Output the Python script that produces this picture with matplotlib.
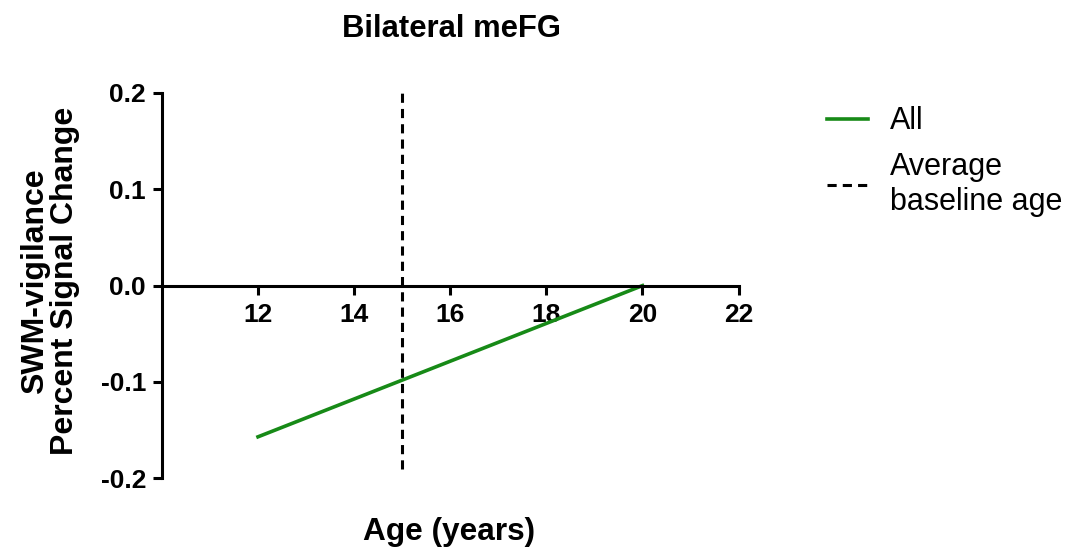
import numpy as np
import matplotlib
matplotlib.use('Agg')
import matplotlib.pyplot as plt

plt.rcParams['font.family'] = ['Liberation Sans', 'DejaVu Sans']

# fitted line for all subjects
age = [12, 20]
psc = [-0.157, 0.0]
baseline_age = 15
baseline_span = [-0.19, 0.2]

xticks = [12, 14, 16, 18, 20, 22]
yticks = [-0.2, -0.1, 0.0, 0.1, 0.2]

fig = plt.figure(figsize=(10.72, 5.6), dpi=100)
ax = fig.add_axes([0.151, 0.146, 0.538, 0.688])

ax.plot(age, psc, color='#178a17', lw=2.6, label='All')
ax.plot([baseline_age, baseline_age], baseline_span, color='black', lw=2.2,
        ls=(0, (3, 2.0)), label='Average\nbaseline age')

ax.set_xlim(10, 22)
ax.set_ylim(-0.2, 0.2)
ax.set_xticks(xticks)
ax.set_yticks(yticks)
ax.set_yticklabels(['%.1f' % t for t in yticks])

ax.spines['top'].set_visible(False)
ax.spines['right'].set_visible(False)
ax.spines['bottom'].set_position(('data', 0))
for s in ['left', 'bottom']:
    ax.spines[s].set_linewidth(2.2)
ax.tick_params(width=2.2, length=6.5, labelsize=19)
ax.tick_params(axis='x', pad=6)
ax.tick_params(axis='y', pad=5)
for lab in ax.get_xticklabels() + ax.get_yticklabels():
    lab.set_fontweight('bold')

fig.text(0.421, 0.934, 'Bilateral meFG', fontsize=22.3, fontweight='bold',
         ha='center', va='baseline')
fig.text(0.047, 0.498, 'SWM-vigilance\nPercent Signal Change', fontsize=23,
         fontweight='bold', rotation=90, ha='center', va='center',
         linespacing=1.0)
fig.text(0.419, 0.036, 'Age (years)', fontsize=22.8, fontweight='bold',
         ha='center', va='baseline')

fig.legend(loc='upper left', bbox_to_anchor=(0.7715, 0.810), frameon=False,
           fontsize=22, handlelength=1.35, labelspacing=0.5,
           handletextpad=0.72, borderpad=0, borderaxespad=0)
for t in fig.legends[0].get_texts():
    t.set_linespacing(1.25)

fig.savefig('out.png', dpi=100)
